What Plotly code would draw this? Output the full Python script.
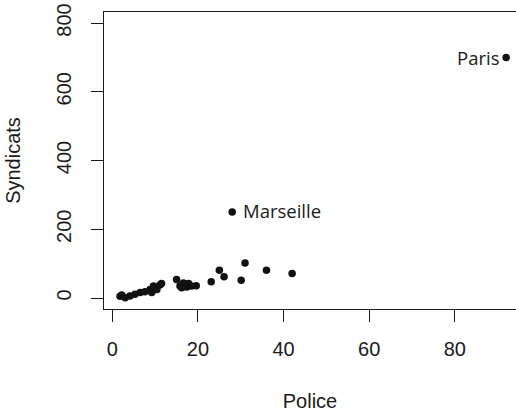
import plotly.graph_objects as go

# Effectifs par ville : police vs syndicats
police = [1.8, 2.2, 3.0, 4.1, 5.3, 6.5, 7.6, 8.8, 9.2, 9.6, 10.4, 11.1, 11.5,
          15.0, 15.8, 16.2, 16.6, 17.4, 17.8, 18.5, 19.6, 23.1, 25.0, 26.1,
          30.1, 31.0, 36.0, 42.0, 28.0, 92.0]
syndicats = [5, 9, 1, 6, 11, 16, 18, 25, 16, 35, 25, 38, 42,
             54, 35, 30, 44, 32, 42, 35, 36, 47, 81, 62,
             52, 102, 81, 71, 250, 700]

labelled = {"Marseille": (28.0, 250), "Paris": (92.0, 700)}

x_ticks = [0, 20, 40, 60, 80]
y_ticks = [0, 200, 400, 600, 800]

AXIS_FONT = dict(family="Liberation Sans, Arial, sans-serif", size=20, color="#1a1a1a")
LABEL_FONT = dict(family="Open Sans, sans-serif", size=18.5, color="#1a1a1a")

fig = go.Figure()
fig.add_trace(go.Scatter(
    x=police, y=syndicats, mode="markers",
    marker=dict(size=7.5, color="#111111"),
    showlegend=False, cliponaxis=False,
))

# noms des villes à côté de leurs points
x, y = labelled["Marseille"]
fig.add_annotation(x=x, y=y, text="Marseille", showarrow=False,
                   xanchor="left", yanchor="middle", xshift=9, yshift=2, font=LABEL_FONT)
x, y = labelled["Paris"]
fig.add_annotation(x=x, y=y, text="Paris", showarrow=False,
                   xanchor="right", yanchor="middle", xshift=-5, font=LABEL_FONT)

fig.update_xaxes(
    range=[-1.95, 94.3], tickvals=x_ticks, ticks="outside", ticklen=12,
    tickcolor="#1a1a1a", tickwidth=1, ticklabelstandoff=10,
    showline=True, linecolor="#1a1a1a", linewidth=1, mirror=True,
    showgrid=False, zeroline=False, tickfont=AXIS_FONT,
    title=dict(text="Police", font=AXIS_FONT, standoff=35),
)
fig.update_yaxes(
    range=[-32, 832], tickvals=y_ticks, ticks="outside", ticklen=12,
    tickcolor="#1a1a1a", tickwidth=1, tickangle=-90, ticklabelstandoff=12,
    ticklabeloverflow="allow",
    showline=True, linecolor="#1a1a1a", linewidth=1,
    showgrid=False, zeroline=False, tickfont=AXIS_FONT,
    title=dict(text="Syndicats", font=AXIS_FONT, standoff=27),
)

fig.update_layout(
    width=516, height=412,
    margin=dict(l=104, r=0, t=12, b=103, autoexpand=False),
    plot_bgcolor="white", paper_bgcolor="white",
)

# sans la marge par défaut de la page, le graphique occupe toute la fenêtre
fig.write_html("out.html", config={"displayModeBar": False},
               post_script="document.body.style.margin = '0';")
